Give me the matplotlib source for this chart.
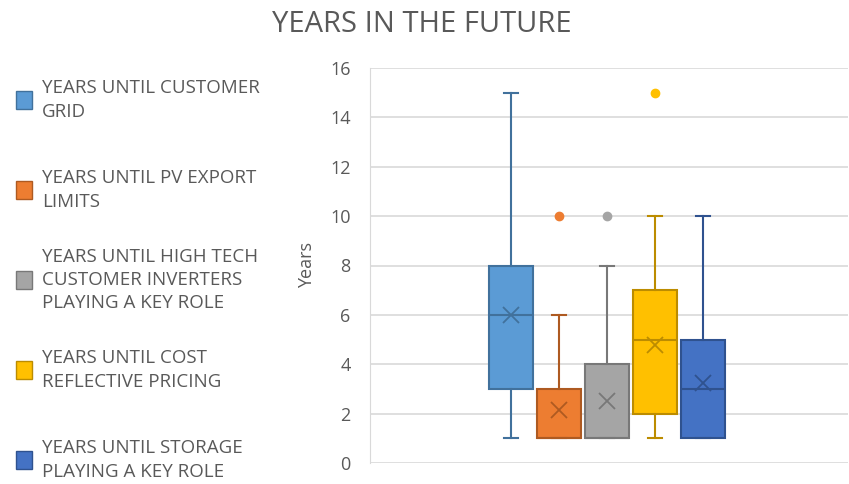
import matplotlib
matplotlib.use("Agg")
import matplotlib.pyplot as plt
from matplotlib.patches import Rectangle

plt.rcParams['font.family'] = ['Open Sans', 'DejaVu Sans']

# legend labels and box statistics
labels = [
    "YEARS UNTIL CUSTOMER\nGRID",
    "YEARS UNTIL PV EXPORT\nLIMITS",
    "YEARS UNTIL HIGH TECH\nCUSTOMER INVERTERS\nPLAYING A KEY ROLE",
    "YEARS UNTIL COST\nREFLECTIVE PRICING",
    "YEARS UNTIL STORAGE\nPLAYING A KEY ROLE",
]
whis_low = [1, 1, 1, 1, 1]
q1 = [3, 1, 1, 2, 1]
medians = [6, 1, 1, 5, 3]
q3 = [8, 3, 4, 7, 5]
whis_high = [15, 6, 8, 10, 10]
means = [6.0, 2.15, 2.5, 4.8, 3.25]
outliers = [[], [10], [10], [15], []]

fills = ['#5B9BD5', '#ED7D31', '#A5A5A5', '#FFC000', '#4472C4']
edges = ['#41719C', '#AE5A21', '#787878', '#BC8C00', '#2F528F']
text_col = '#595959'

fig = plt.figure(figsize=(8.49, 4.84), dpi=100)
ax = fig.add_axes([370 / 849, 21 / 484, 478 / 849, 395 / 484])

positions = [1, 2, 3, 4, 5]
for i in range(5):
    st = dict(whislo=whis_low[i], q1=q1[i], med=medians[i], q3=q3[i],
              whishi=whis_high[i], mean=means[i], fliers=outliers[i])
    ax.bxp([st], positions=[positions[i]], widths=0.93, capwidths=0.28,
           patch_artist=True, showmeans=True, zorder=3,
           boxprops=dict(facecolor=fills[i], edgecolor=edges[i], linewidth=1.5),
           whiskerprops=dict(color=edges[i], linewidth=1.5),
           capprops=dict(color=edges[i], linewidth=1.5),
           medianprops=dict(color=edges[i], linewidth=1.5),
           meanprops=dict(marker='x', markeredgecolor=edges[i], markersize=12,
                          markeredgewidth=1.3),
           flierprops=dict(marker='o', markerfacecolor=fills[i],
                           markeredgecolor=fills[i], markersize=6))

ax.set_xlim(-1.94, 8.02)
ax.set_ylim(0, 16)
ax.set_yticks(range(0, 17, 2))
ax.set_xticks([])
ax.yaxis.grid(True, color='#D9D9D9', linewidth=1.2)
ax.set_axisbelow(True)
for s in ['top', 'right', 'bottom']:
    ax.spines[s].set_visible(False)
ax.spines['left'].set_color('#D9D9D9')
ax.tick_params(axis='y', length=0, pad=14, labelsize=13, labelcolor=text_col)
ax.set_ylabel("Years", fontsize=13, color=text_col, labelpad=10)

fig.text(422 / 849, 1 - 24 / 484, "YEARS IN THE FUTURE", ha='center', va='center',
         fontsize=21, color=text_col)

# legend on the left
for i, lab in enumerate(labels):
    yc = 1 - (100 + 90 * i) / 484
    fig.patches.append(Rectangle((16 / 849, yc - 9 / 484), 16 / 849, 18 / 484,
                                 transform=fig.transFigure, facecolor=fills[i],
                                 edgecolor=edges[i], linewidth=1))
    fig.text(42 / 849, yc, lab, ha='left', va='center', fontsize=13.5,
             color=text_col, linespacing=1.38)

fig.savefig("out.png", dpi=100)
